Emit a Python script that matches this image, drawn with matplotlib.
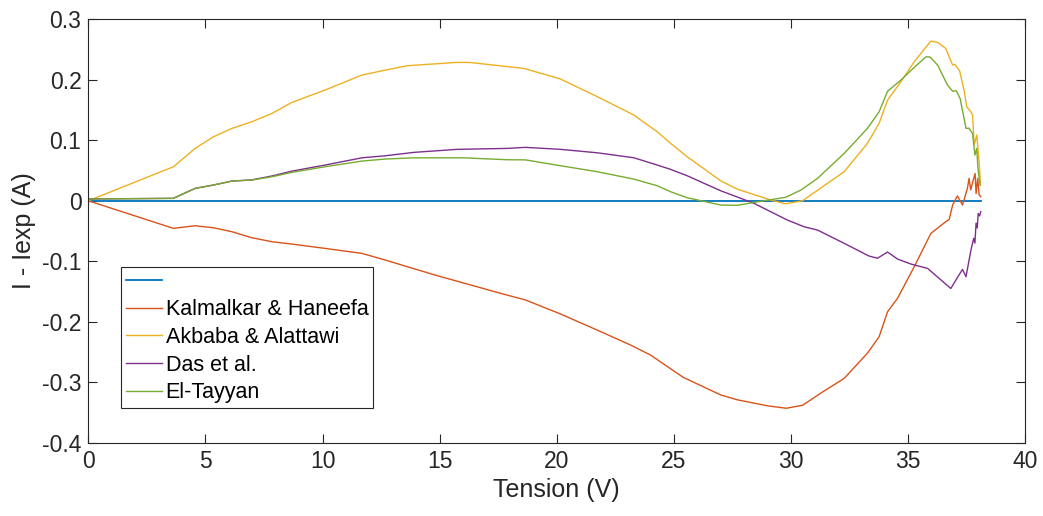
import numpy as np
import matplotlib
matplotlib.use("Agg")
from matplotlib import pyplot as plt

# zero reference
ref_v = [0, 38.1]
ref_i = [0, 0]

# Kalmalkar & Haneefa
kal_v = [0, 3.63, 4.56, 5.34, 6.13, 6.98, 7.84, 8.69, 10.1, 11.68, 12.68, 14.8,
         17.6, 18.66, 20.15, 21.72, 23.15, 24.0, 25.4, 27.0, 27.7, 29.0, 29.8, 30.5,
         31.27, 32.27, 33.26, 33.76, 34.12, 34.55, 35.26, 35.97, 36.6, 36.75, 36.9,
         37.1, 37.32, 37.53, 37.6, 37.67, 37.75, 37.86, 37.9, 37.97, 38.03, 38.1]
kal_i = [0, -0.0456, -0.0413, -0.0446, -0.0512, -0.0611, -0.0677, -0.0716, -0.0787,
         -0.087, -0.098, -0.1228, -0.153, -0.164, -0.187, -0.2137, -0.2385, -0.255,
         -0.292, -0.321, -0.329, -0.339, -0.343, -0.338, -0.318, -0.2936, -0.252,
         -0.2248, -0.1835, -0.161, -0.109, -0.054, -0.0347, -0.031, -0.007, 0.008,
         -0.007, 0.0205, 0.037, 0.018, 0.03, 0.045, 0.012, 0.037, 0.01, 0.0066]

# Akbaba & Alattawi
akb_v = [0, 3.63, 4.56, 5.34, 6.13, 6.98, 7.84, 8.69, 10.1, 11.68, 12.68, 13.6,
         15.74, 16.3, 18.6, 20.16, 21.73, 23.29, 24.29, 24.86, 25.57, 27.0, 27.7,
         29.13, 29.77, 30.49, 31.55, 32.27, 33.26, 33.76, 34.12, 34.69, 35.26, 35.97,
         36.26, 36.6, 36.9, 37.0, 37.2, 37.4, 37.5, 37.68, 37.75, 37.82, 37.93, 38.03,
         38.09]
akb_i = [0, 0.0562, 0.0866, 0.1058, 0.1196, 0.1306, 0.1444, 0.1626, 0.183, 0.2078,
         0.216, 0.2232, 0.2288, 0.2286, 0.2188, 0.2012, 0.172, 0.1417, 0.114, 0.0948,
         0.0727, 0.033, 0.0193, 0.0012, -0.005, 0.0, 0.0287, 0.048, 0.0948, 0.128,
         0.1664, 0.1967, 0.2298, 0.264, 0.2618, 0.252, 0.2243, 0.2254, 0.2144, 0.18,
         0.1554, 0.147, 0.1417, 0.092, 0.1086, 0.0645, 0.026]

# Das et al.
das_v = [0, 3.63, 4.56, 5.34, 6.13, 6.98, 7.84, 8.69, 10.1, 11.68, 12.68, 13.9,
         15.74, 17.9, 18.66, 20.16, 21.73, 23.29, 24.29, 24.86, 25.57, 27.0, 28.42,
         29.85, 30.56, 31.13, 32.27, 32.69, 33.33, 33.69, 34.12, 34.55, 35.12, 35.83,
         36.82, 37.04, 37.32, 37.47, 37.68, 37.8, 37.85, 37.9, 37.95, 37.99, 38.05, 38.1]
das_i = [0.003, 0.004, 0.0205, 0.026, 0.0326, 0.0345, 0.041, 0.049, 0.059, 0.071,
         0.0744, 0.08, 0.085, 0.0866, 0.0883, 0.085, 0.0793, 0.0711, 0.059, 0.0519,
         0.0413, 0.0165, -0.0043, -0.032, -0.043, -0.0484, -0.0704, -0.0787, -0.0914,
         -0.095, -0.0848, -0.0964, -0.1046, -0.1118, -0.145, -0.131, -0.1134, -0.1256,
         -0.0815, -0.062, -0.07, -0.037, -0.045, -0.021, -0.025, -0.018]

# El-Tayyan
elt_v = [0, 3.63, 4.56, 5.34, 6.13, 6.98, 7.84, 8.69, 10.1, 11.68, 12.68, 13.9,
         16.0, 17.9, 18.66, 20.16, 21.73, 23.29, 24.29, 24.86, 25.57, 27.0, 27.7,
         28.42, 29.77, 30.42, 31.13, 32.27, 33.26, 33.76, 34.12, 34.69, 35.26, 35.76,
         35.94, 36.26, 36.68, 36.9, 37.05, 37.22, 37.47, 37.6, 37.75, 37.85, 37.93,
         37.98, 38.07]
elt_i = [0.003, 0.004, 0.0205, 0.026, 0.0326, 0.0342, 0.0397, 0.047, 0.0562, 0.0656,
         0.069, 0.071, 0.071, 0.0678, 0.0676, 0.0579, 0.048, 0.0358, 0.0248, 0.0149,
         0.005, -0.0071, -0.0076, -0.0027, 0.0057, 0.0177, 0.037, 0.0783, 0.1196,
         0.147, 0.181, 0.1995, 0.2205, 0.238, 0.2375, 0.2243, 0.1912, 0.181, 0.182,
         0.169, 0.1196, 0.12, 0.111, 0.0755, 0.0866, 0.0535, 0.026]

labels = ['', 'Kalmalkar & Haneefa', 'Akbaba & Alattawi', 'Das et al.', 'El-Tayyan']
x_ticks = [0, 5, 10, 15, 20, 25, 30, 35, 40]
y_ticks = [-0.4, -0.3, -0.2, -0.1, 0, 0.1, 0.2, 0.3]

plt.rcParams['font.family'] = ['Liberation Sans', 'DejaVu Sans']
dark = '#262626'

fig = plt.figure(figsize=(10.43, 5.16), dpi=100)
ax = fig.add_axes([0.0847, 0.142, 0.8983, 0.8206])

series = [(ref_v, ref_i, '#0072BD', 1.3),
          (kal_v, kal_i, '#D95319', 1.0),
          (akb_v, akb_i, '#EDB120', 1.0),
          (das_v, das_i, '#7E2F8E', 1.0),
          (elt_v, elt_i, '#77AC30', 1.0)]
handles = []
for v, i, c, lw in series:
    h, = ax.plot(v, i, color=c, linewidth=lw)
    handles.append(h)

ax.set_xlim(0, 40)
ax.set_ylim(-0.4, 0.3)
ax.set_xticks(x_ticks)
ax.set_yticks(y_ticks)
ax.set_xticklabels([str(t) for t in x_ticks])
ax.set_yticklabels(['-0.4', '-0.3', '-0.2', '-0.1', '0', '0.1', '0.2', '0.3'])
ax.tick_params(direction='in', length=6.5, width=0.8, colors=dark,
               labelsize=16.5, top=True, right=True, pad=5)
for s in ax.spines.values():
    s.set_color(dark)
    s.set_linewidth(0.8)

ax.set_xlabel('Tension (V)', fontsize=18, color=dark, labelpad=4)
ax.set_ylabel('I - Iexp (A)', fontsize=18, color=dark, labelpad=4)

leg = ax.legend(handles, labels, loc='lower left', bbox_to_anchor=(0.035, 0.082),
                borderaxespad=0, fontsize=15.5, fancybox=False, framealpha=1,
                edgecolor=dark, handlelength=1.7, handletextpad=0.15,
                labelspacing=0.31, borderpad=0.22)
leg.get_frame().set_linewidth(0.8)

fig.savefig('out.png', dpi=100)
